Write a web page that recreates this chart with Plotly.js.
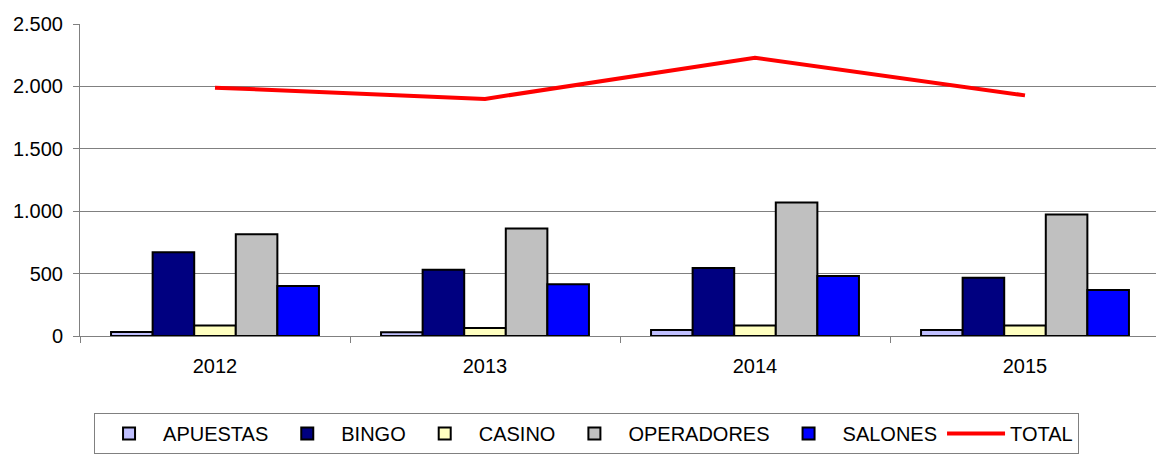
<!DOCTYPE html>
<html>
<head>
<meta charset="utf-8">
<script src="https://cdn.plot.ly/plotly-3.0.1.min.js"></script>
<style>
html,body{margin:0;padding:0;overflow:hidden;background:#fff;}
#chart{width:1160px;height:454px;}
</style>
</head>
<body>
<div id="chart"></div>
<script>
const years = ['2012', '2013', '2014', '2015'];
const apuestas = [32, 30, 48, 48];
const bingo = [671, 531, 544, 467];
const casino = [85, 64, 85, 85];
const operadores = [815, 862, 1069, 974];
const salones = [401, 414, 480, 369];
const total = [1990, 1900, 2230, 1928];

const seriesNames = ['APUESTAS', 'BINGO', 'CASINO', 'OPERADORES', 'SALONES'];
const seriesValues = [apuestas, bingo, casino, operadores, salones];
const seriesColors = ['#c0c0ff', '#000080', '#ffffc0', '#c0c0c0', '#0000ff'];

const traces = seriesNames.map((name, i) => ({
  type: 'bar',
  name: name,
  x: years,
  y: seriesValues[i],
  marker: {color: seriesColors[i], line: {color: '#000000', width: 2}}
}));
traces.push({
  type: 'scatter',
  mode: 'lines',
  name: 'TOTAL',
  x: years,
  y: total,
  line: {color: '#ff0000', width: 4}
});

const font = {family: 'Liberation Sans, Arial, sans-serif', color: '#000000'};

const layout = {
  width: 1160,
  height: 454,
  margin: {l: 80, r: 0, t: 24, b: 116},
  paper_bgcolor: '#ffffff',
  plot_bgcolor: '#ffffff',
  separators: ',.',
  font: Object.assign({size: 20}, font),
  barmode: 'group',
  bargap: 0.23,
  bargroupgap: 0,
  showlegend: true,
  xaxis: {
    type: 'category',
    tickson: 'boundaries',
    ticks: 'outside',
    ticklen: 6,
    tickcolor: '#808080',
    showline: true,
    linecolor: '#808080',
    linewidth: 1,
    showgrid: false,
    zeroline: false,
    ticklabelstandoff: 12,
    tickfont: Object.assign({size: 20}, font)
  },
  yaxis: {
    range: [0, 2500],
    dtick: 500,
    tickformat: ',d',
    ticks: 'outside',
    ticklen: 6,
    tickcolor: '#808080',
    showline: true,
    linecolor: '#808080',
    linewidth: 1,
    showgrid: true,
    gridcolor: '#808080',
    gridwidth: 1,
    zeroline: false,
    ticklabelstandoff: 6,
    tickfont: Object.assign({size: 20}, font)
  },
  legend: {
    orientation: 'h',
    x: 0.013,
    xanchor: 'left',
    y: -0.248,
    yanchor: 'top',
    bordercolor: '#808080',
    borderwidth: 1,
    bgcolor: '#ffffff',
    font: Object.assign({size: 20}, font),
    traceorder: 'normal',
    itemwidth: 58
  }
};

Plotly.newPlot('chart', traces, layout, {displayModeBar: false, staticPlot: true});
</script>
</body>
</html>
